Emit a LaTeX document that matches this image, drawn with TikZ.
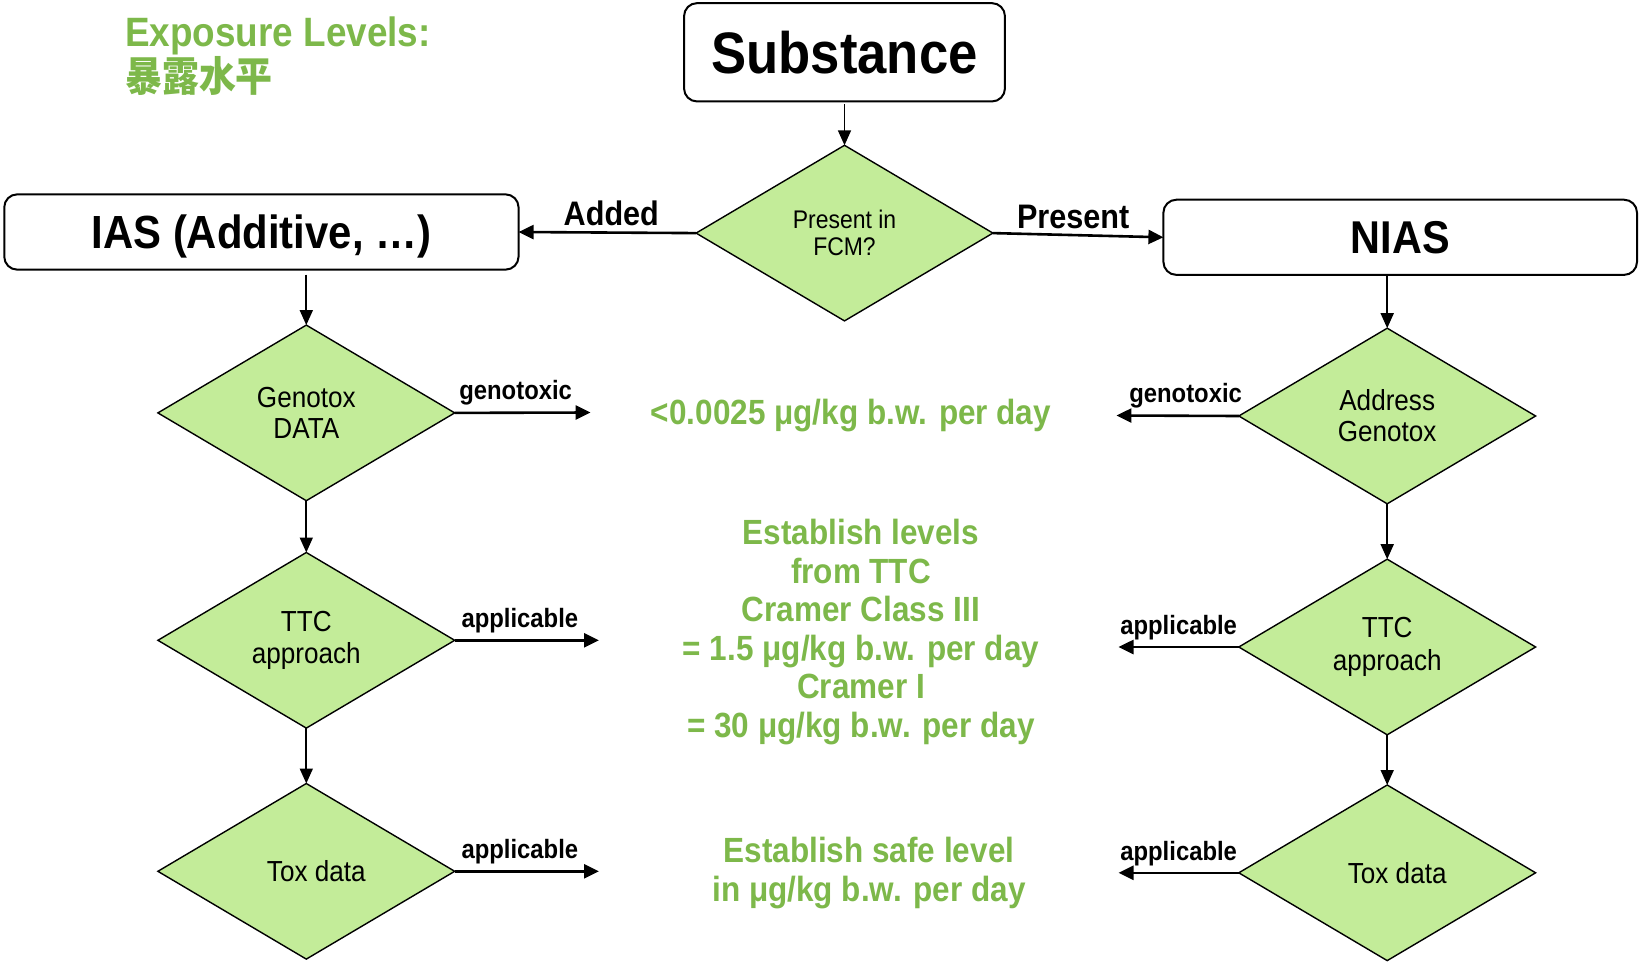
\documentclass[tikz,border=0pt]{standalone}
\usepackage{fontspec}
\setmainfont{Liberation Sans}[FakeStretch=0.9]
\newfontfamily\cjk{Noto Sans CJK SC}[FakeStretch=0.9]
\usetikzlibrary{shapes.geometric,arrows.meta}
\definecolor{txtgreen}{RGB}{125,184,74}
\definecolor{dfill}{RGB}{195,236,153}
\tikzset{
  box/.style={draw, line width=2pt, rounded corners=13pt, inner sep=0pt, outer sep=0pt},
  dec/.style={diamond, draw, fill=dfill, line width=1.4pt, minimum width=296.8pt,
    minimum height=175.6pt, inner sep=0pt, outer sep=0pt, align=center,
    font=\fontsize{29}{31}\selectfont},
  flow/.style={-{Triangle[length=15pt,width=13pt]}, line width=1.7pt},
  outarr/.style={-{Triangle[length=15pt,width=14pt]}, line width=2.6pt},
  lbl/.style={font=\bfseries\fontsize{26.5}{28}\selectfont, inner sep=0pt, above=6pt},
  biglbl/.style={font=\bfseries\fontsize{34}{36}\selectfont, inner sep=0pt, above=5pt},
  note/.style={text=txtgreen, font=\bfseries\fontsize{35}{38.6}\selectfont, align=center, inner sep=0pt},
}
\begin{document}
\begin{tikzpicture}[x=1pt,y=-1pt]
\useasboundingbox (0,0) rectangle (1639,966);

% titles
\node[text=txtgreen, font=\bfseries\fontsize{41}{46}\selectfont, anchor=base west, inner sep=0pt] (exp) at (125,47) {Exposure Levels:};
\node[text=txtgreen, font=\cjk\bfseries\fontsize{41}{46}\selectfont, anchor=base west, inner sep=0pt] (expcn) at (125,92) {暴露水平};

% boxes
\node[box, minimum width=320.9pt, minimum height=98.3pt, font=\bfseries\fontsize{58.5}{62}\selectfont] (sub) at (844.5,52.3) {Substance};
\node[box, minimum width=514.3pt, minimum height=75.3pt, text height=33pt, text depth=-1pt, font=\bfseries\fontsize{46.5}{50}\selectfont] (ias) at (261.4,232) {IAS (Additive, …)};
\node[box, minimum width=473.6pt, minimum height=75.2pt, text height=33pt, text depth=-1pt, font=\bfseries\fontsize{46}{50}\selectfont] (nias) at (1400.2,237.3) {NIAS};

% decisions
\node[dec, font=\fontsize{25.5}{27.5}\selectfont] (fcm) at (844.5,233.1) {Present in\\FCM?};
\node[dec] (gd) at (306.3,412.9) {Genotox\\DATA};
\node[dec, font=\fontsize{29}{32.5}\selectfont] (ttcl) at (306.3,640.3) {TTC\\approach};
\node[dec] (toxl) at (306.3,871.3) {\hspace*{20pt}Tox data};
\node[dec] (ag) at (1387.2,416) {Address\\Genotox};
\node[dec, font=\fontsize{29}{32.5}\selectfont] (ttcr) at (1387.2,647) {TTC\\approach};
\node[dec] (toxr) at (1387.2,872.8) {\hspace*{20pt}Tox data};

% green notes
\node[note] (n1) at (851,416) {<0.0025 μg/kg b.w. per day};
\node[note] (n2) at (861,632) {Establish levels\\from TTC\\Cramer Class III\\= 1.5 μg/kg b.w. per day\\Cramer I\\= 30 μg/kg b.w. per day};
\node[note] (n3) at (869,873) {Establish safe level\\in μg/kg b.w. per day};

% free ends
\coordinate (e1) at (590.6,412.5);
\coordinate (e2) at (599,640.3);
\coordinate (e3) at (599,871.3);
\coordinate (e4) at (1116.4,415.5);
\coordinate (e5) at (1118.5,647);
\coordinate (e6) at (1118.5,872.8);

% connectors
\draw[flow, shorten <=3pt] (sub.south) -- (fcm.north);
\draw[outarr] (fcm.west) -- (ias.east) node[biglbl, midway, xshift=4pt] {Added};
\draw[outarr] (fcm.east) -- (nias.west) node[biglbl, midway, xshift=-5pt] {Present};

\draw[flow, shorten <=5pt] (ias.south -| gd.north) -- (gd.north);
\draw[flow] (gd.south) -- (ttcl.north);
\draw[flow] (ttcl.south) -- (toxl.north);
\draw[flow, shorten <=1pt] (nias.south -| ag.north) -- (ag.north);
\draw[flow] (ag.south) -- (ttcr.north);
\draw[flow] (ttcr.south) -- (toxr.north);

\draw[outarr] (gd.east) -- (e1) node[lbl, midway, xshift=-7pt] {genotoxic};
\draw[outarr] (ttcl.east) -- (e2) node[lbl, midway, xshift=-7pt] {applicable};
\draw[outarr] (toxl.east) -- (e3) node[lbl, midway, xshift=-7pt] {applicable};
\draw[outarr] (ag.west) -- (e4) node[lbl, midway, xshift=8pt] {genotoxic};
\draw[outarr] (ttcr.west) -- (e5) node[lbl, midway] {applicable};
\draw[outarr] (toxr.west) -- (e6) node[lbl, midway] {applicable};
\end{tikzpicture}
\end{document}
